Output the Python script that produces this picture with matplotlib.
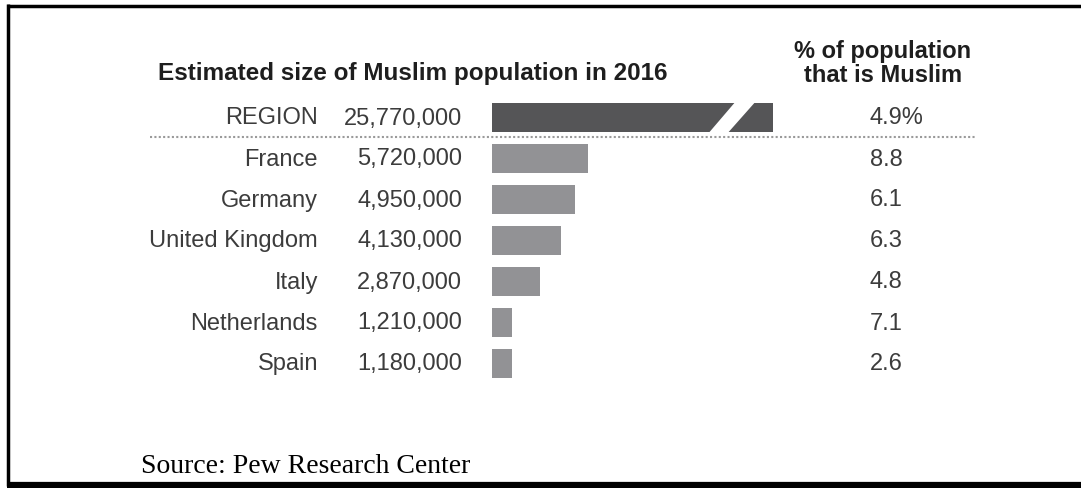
import matplotlib
matplotlib.use("Agg")
import matplotlib.pyplot as plt
import matplotlib.transforms as mtransforms
from matplotlib.patches import Polygon
import numpy as np

# Muslim population estimates, 2016 (millions) and share of total population (%)
labels = ["REGION", "France", "Germany", "United Kingdom", "Italy", "Netherlands", "Spain"]
population = [25.77, 5.72, 4.95, 4.13, 2.87, 1.21, 1.18]
share = ["4.9%", "8.8", "6.1", "6.3", "4.8", "7.1", "2.6"]

title = "Estimated size of Muslim population in 2016"
share_header = "% of population\nthat is Muslim"
source = "Source: Pew Research Center"

W, H = 1081, 489
fig = plt.figure(figsize=(W / 100, H / 100), dpi=100)
fig.patch.set_facecolor("white")

# background axes in pixel coordinates (frame, separators, text)
bg = fig.add_axes([0, 0, 1, 1])
bg.set_xlim(0, W)
bg.set_ylim(H, 0)
bg.axis("off")

# bar axes: x in millions, y = row index
px_per_m = 16.7
bar_left, bar_right = 492, W
row_top, row_bot = 98, 385
ax = fig.add_axes([bar_left / W, 1 - row_bot / H, (bar_right - bar_left) / W, (row_bot - row_top) / H])
ax.set_xlim(0, (bar_right - bar_left) / px_per_m)
ax.set_ylim(len(labels) - 0.5, -0.5)
ax.axis("off")
ax.patch.set_alpha(0)

sans = "Liberation Sans"
text_col = "#3c3c3c"

# region total is shown with a broken bar
cap = 16.83
widths = [min(v, cap) for v in population]
colors = ["#555557"] + ["#929295"] * (len(labels) - 1)
y = np.arange(len(labels))
ax.barh(y, widths, height=0.72, color=colors, edgecolor="none")

# break mark on the region bar
gap = Polygon([(14.61, -0.40), (15.81, -0.40), (14.07, 0.40), (12.93, 0.40)],
              closed=True, facecolor="white", edgecolor="none", zorder=3)
ax.add_patch(gap)

trans = mtransforms.blended_transform_factory(bg.transData, ax.transData)
for i, (lab, val, pct) in enumerate(zip(labels, population, share)):
    bg.text(318, i, lab, transform=trans, ha="right", va="center",
            fontsize=17, family=sans, color=text_col)
    bg.text(462, i, f"{int(round(val * 1e6)):,}", transform=trans, ha="right", va="center",
            fontsize=17, family=sans, color=text_col)
    bg.text(870, i, pct, transform=trans, ha="left", va="center",
            fontsize=17, family=sans, color=text_col)

# dotted separator under the region row
bg.plot([150, 975], [0.47, 0.47], transform=trans, color="#9a9a9a",
        linewidth=1.5, linestyle=(0, (1, 1.1)))

# headers
bg.text(158, 80, title, ha="left", va="baseline", fontsize=17.5,
        fontweight="bold", family=sans, color="#1e1e1e")
bg.text(883, 82, share_header, ha="center", va="baseline", fontsize=17,
        fontweight="bold", family=sans, color="#1e1e1e", linespacing=1.05)

bg.text(141, 473, source, ha="left", va="baseline", fontsize=20,
        family="Liberation Serif", color="black")

# frame
bg.plot([8, 8], [5, 487], color="black", linewidth=2.5, solid_capstyle="butt")
bg.plot([6.5, W], [6.5, 6.5], color="black", linewidth=2.5, solid_capstyle="butt")
bg.plot([6.5, W], [486, 486], color="black", linewidth=4.5, solid_capstyle="butt")

fig.savefig("out.png", dpi=100)
